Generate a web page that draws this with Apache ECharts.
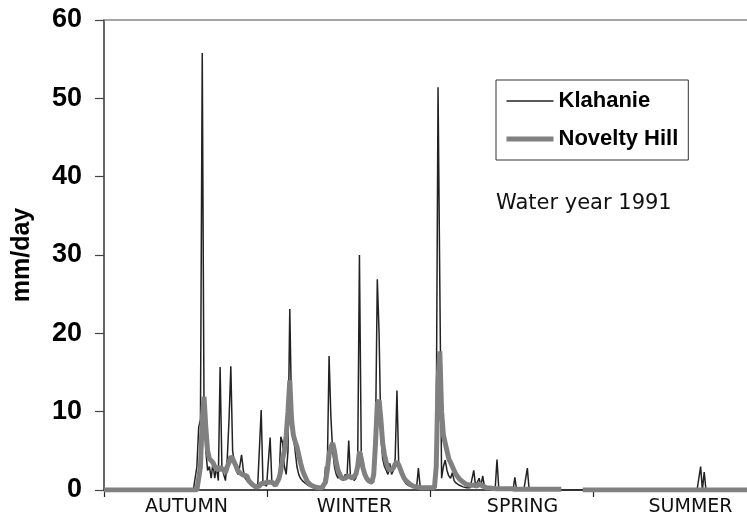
<!DOCTYPE html>
<html>
<head>
<meta charset="utf-8">
<script src="https://cdn.jsdelivr.net/npm/echarts@6/dist/echarts.min.js"></script>
<style>
  html, body { margin: 0; padding: 0; background: #fff; }
  #chart { width: 747px; height: 519px; }
</style>
</head>
<body>
<div id="chart"></div>
<script>
// seasons on the x axis
var seasons = ['AUTUMN', 'WINTER', 'SPRING', 'SUMMER'];
var yTicks = [0, 10, 20, 30, 40, 50, 60];

// daily values, mm/day, water year 1991 (day 0 = 1 Oct)
var klahanie = [
  0,0,0,0,0,0,0,0,0,0,
  0,0,0,0,0,0,0,0,0,0,
  0,0,0,0,0,0,0,0,0,0,
  0,0,0,0,0,0,0,0,0,0,
  0,0,0,0,0,0,0,0,0,0,
  // 50
  0,0,3,8,9,55.8,10,5,2.5,3,
  1.5,3.5,1.5,3,1.2,15.7,3,2,1.2,4,
  9,15.8,5,3.5,2.5,2,3,4.5,2.5,1.5,
  1.2,1,0.8,0.6,0.5,0.4,0.3,0.5,10.2,0.8,
  0.6,0.5,0.5,6.7,0.8,0.6,0.5,0.6,1.5,6.8,
  // 100
  6,3,2,5,23.1,10,7,5,3,2,
  1.5,1.2,1,0.8,0.6,0.5,0.4,0.4,0.3,0.3,
  0.3,0.3,0.2,0.2,3,2.5,17.1,9.4,5,3,
  2,1.5,2.5,1.5,1.2,2,1.5,6.3,1.5,1.8,
  1.2,1.5,3,30,5,3,2,1.5,1.2,1,
  // 150
  0.8,1.5,7,26.9,20,7,4,3,2.5,2,
  3.4,2,2.5,4,12.7,3,2.5,1.8,1.2,0.8,
  0.6,0.5,0.4,0.4,0.3,0.3,2.8,0.4,0.3,0.3,
  0.3,0.3,0.3,0.3,0.3,0.5,8,51.4,26,1.5,
  3,3.8,2.5,1.8,1.5,2.2,1.2,0.9,0.7,0.6,
  // 200
  0.5,0.4,0.4,0.3,0.3,0.3,0.5,2.5,0.5,0.4,
  1.5,0.5,1.8,0.4,0.3,0.3,0.2,0.2,0.2,0.2,
  3.9,0.2,0,0,0,0,0,0,0,0,
  1.6,0,0,0,0,0,0,2.8,0,0,
  0,0,0,0,0,0,0,0,0,0,
  // 250
  0,0,0,0,0,0,0,0,0,0,
  0,0,0,0,0,0,0,0,0,0,
  0,0,0,0,0,0,0,0,0,0,
  0,0,0,0,0,0,0,0,0,0,
  0,0,0,0,0,0,0,0,0,0,
  // 300
  0,0,0,0,0,0,0,0,0,0,
  0,0,0,0,0,0,0,0,0,0,
  0,0,0,0,0,0,0,0,0,0,
  0,0,0,0,3,0,2.3,0,0,0,
  0,0,0,0,0,0,0,0,0,0,
  // 350
  0,0,0,0,0,0,0,0,0,0,
  0,0,0,0,0
];

var noveltyHill = [
  0,0,0,0,0,0,0,0,0,0,
  0,0,0,0,0,0,0,0,0,0,
  0,0,0,0,0,0,0,0,0,0,
  0,0,0,0,0,0,0,0,0,0,
  0,0,0,0,0,0,0,0,0,0,
  // 50
  0,0,0,0,3,9,11.9,8,5,4,
  3.8,3.5,3,3.2,2.5,3,2.5,2.8,2.2,3,
  3.5,4.3,4,3.5,3,2.5,2.2,2,1.9,1.8,
  1.8,1.2,1,0.7,0.5,0.4,0.4,0.5,0.8,1,
  0.9,1,1,0.9,1,0.8,0.6,0.8,1.5,2.5,
  // 100
  4,5,7,10,14,9,7,6.2,5.5,4.5,
  3.5,2.6,2,1.5,1,0.8,0.6,0.5,0.4,0.3,
  0.3,0.3,0.3,0.5,1,2.5,4.5,5.5,6,5,
  3.5,2.5,2,1.5,1.5,1.5,1.5,1.8,1.6,1.5,
  1.5,2,3,4.9,4,2.8,2,1.5,1.2,1,
  // 150
  1,2,6,11,11.5,9,6,4.5,3.5,2.8,
  2.5,2.5,2.8,3.3,3.6,3.2,2.6,2,1.5,1.2,
  1,0.8,0.6,0.5,0.4,0.4,0.4,0.3,0.3,0.3,
  0.3,0.3,0.3,0.3,0.3,0.3,3,14,17.7,10,
  7,6,5,4,3.5,3,2.5,2,1.7,1.4,
  // 200
  1.2,1,0.8,0.7,0.6,0.6,0.6,0.6,0.6,0.5,
  0.8,0.6,0.5,0.4,0.3,0.3,0.25,0.2,0.2,0.2,
  0.15,0.15,0.15,0.15,0.15,0.15,0.15,0.15,0.15,0.15,
  0.1,0.1,0.1,0.1,0.1,0.1,0.1,0.1,0.1,0.1,
  0.1,0.1,0.1,0.1,0.1,0.1,0.1,0.1,0.1,0.1,
  // 250 (missing record 257-267)
  0.1,0.1,0.1,0.1,0.1,0.1,0.1,null,null,null,
  null,null,null,null,null,null,null,null,0,0,
  0,0,0,0,0,0,0,0,0,0,
  0,0,0,0,0,0,0,0,0,0,
  0,0,0,0,0,0,0,0,0,0,
  // 300
  0,0,0,0,0,0,0,0,0,0,
  0,0,0,0,0,0,0,0,0,0,
  0,0,0,0,0,0,0,0,0,0,
  0,0,0,0,0,0,0,0,0,0,
  0,0,0,0,0,0,0,0,0,0,
  // 350
  0,0,0,0,0,0,0,0,0,0,
  0,0,0,0,0
];

function toPairs(arr){
  var out = [];
  for (var i = 0; i < arr.length; i++) {
    out.push([i, arr[i]]);
  }
  return out;
}

var chart = echarts.init(document.getElementById('chart'));
var option = {
  animation: false,
  backgroundColor: '#fff',
  grid: [
    { left: 104, top: 20, width: 652, height: 470, containLabel: false, outerBoundsMode: 'none' },
    // labels of the seasons sit a bit wider than the tick spacing
    { left: 102.5, top: 20, width: 672, height: 470, containLabel: false, outerBoundsMode: 'none' }
  ],
  legend: {
    left: 496, top: 80,
    orient: 'vertical',
    itemWidth: 47, itemHeight: 14, itemGap: 16,
    padding: [10, 10, 10, 8],
    borderColor: '#333', borderWidth: 1,
    textStyle: { fontFamily: 'Liberation Sans', fontWeight: 'bold', fontSize: 22, color: '#000' },
    data: [
      { name: 'Klahanie', lineStyle: { width: 1.5, color: '#222' }, itemStyle: { opacity: 0 } },
      { name: 'Novelty Hill', lineStyle: { width: 5, color: '#808080' }, itemStyle: { opacity: 0 } }
    ]
  },
  graphic: [{
    type: 'text', left: 496, top: 193,
    style: { text: 'Water year 1991', fontFamily: 'DejaVu Sans', fontSize: 21, fill: '#111' }
  }],
  xAxis: [
    {
      // tick marks between seasons
      type: 'category', gridIndex: 0, data: seasons, position: 'bottom',
      boundaryGap: true,
      axisLine: { lineStyle: { color: '#111', width: 1.5 } },
      axisTick: { show: true, length: 7, interval: 0, lineStyle: { color: '#222', width: 1.2 } },
      axisLabel: { show: false }
    },
    {
      // day of water year, carries the data
      type: 'value', gridIndex: 0, min: 0, max: 365, show: false
    },
    {
      // top border
      type: 'value', gridIndex: 0, position: 'top', min: 0, max: 1,
      axisLine: { show: true, lineStyle: { color: '#888', width: 1.5 } },
      axisTick: { show: false }, axisLabel: { show: false }, splitLine: { show: false }
    },
    {
      type: 'category', gridIndex: 1, data: seasons, position: 'bottom',
      boundaryGap: true,
      axisLine: { show: false }, axisTick: { show: false },
      axisLabel: { margin: 8, fontFamily: 'DejaVu Sans', fontSize: 19, color: '#111' }
    }
  ],
  yAxis: [
    {
      type: 'value', gridIndex: 0, min: 0, max: 60, interval: 10,
      name: 'mm/day', nameLocation: 'middle', nameGap: 69, nameRotate: 90,
      nameTextStyle: { fontFamily: 'Liberation Sans', fontWeight: 'bold', fontSize: 25, color: '#000' },
      axisLine: { show: true, lineStyle: { color: '#333', width: 1.5 } },
      axisTick: { show: true, length: 9, lineStyle: { color: '#444', width: 1.2 } },
      axisLabel: {
        margin: 22, fontFamily: 'Liberation Sans', fontWeight: 'bold', fontSize: 27, color: '#000',
        formatter: function (v) { return yTicks.indexOf(v) >= 0 ? String(v) : ''; }
      },
      splitLine: { show: false }
    },
    { type: 'value', gridIndex: 1, show: false }
  ],
  series: [
    {
      name: 'Klahanie', type: 'line', xAxisIndex: 1, yAxisIndex: 0,
      data: toPairs(klahanie), symbol: 'none', connectNulls: false,
      lineStyle: { color: '#222', width: 1.5 }, itemStyle: { color: '#222' }
    },
    {
      name: 'Novelty Hill', type: 'line', xAxisIndex: 1, yAxisIndex: 0,
      data: toPairs(noveltyHill), symbol: 'none', connectNulls: false,
      lineStyle: { color: '#808080', width: 5 }, itemStyle: { color: '#808080' }
    }
  ]
};
chart.setOption(option);
</script>
</body>
</html>
